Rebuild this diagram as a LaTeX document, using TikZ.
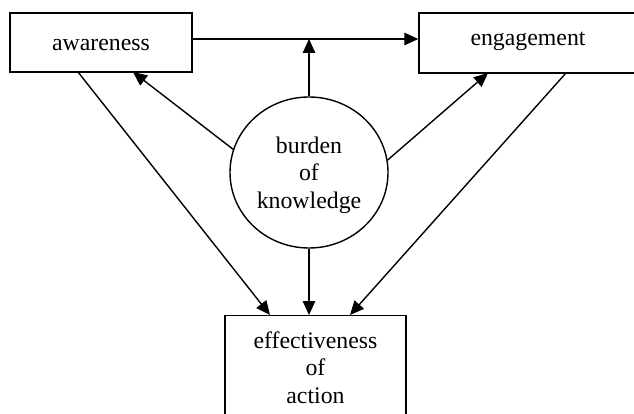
\documentclass[tikz,border=0pt]{standalone}
\usepackage{fontspec}
\setmainfont{Liberation Serif}
\usetikzlibrary{arrows.meta,shapes.geometric}
\begin{document}
\begin{tikzpicture}[x=1pt,y=-1pt,
  every node/.style={font=\fontsize{23.8}{27.7}\selectfont, align=center, line width=1.4pt},
  box/.style={draw, rectangle, inner sep=0pt},
  conn/.style={line width=1.4pt, -{Triangle[length=14pt,width=12.5pt]}}]
\clip (0,0) rectangle (634,414);
\useasboundingbox (0,0) rectangle (634,414);
\node[box, minimum width=182pt, minimum height=59pt, text height=17pt, text depth=0pt] (aw) at (101,42.5) {awareness};
\node[box, minimum width=218pt, minimum height=60pt, text height=17pt, text depth=11pt] (eng) at (528,43) {engagement};
\node[draw, ellipse, inner sep=0pt, minimum width=158pt, minimum height=151pt] (bk) at (309,172.5) {};
\node[inner sep=0pt] (bkt) at (309,175.2) {burden\\of\\knowledge};
\node[box, anchor=north, minimum width=181pt, inner ysep=15.7pt] (eff) at (315.5,315) {effectiveness\\of\\action};
% connection points
\coordinate (awR) at (192,39);
\coordinate (awB1) at (78,72);
\coordinate (awB2) at (133,72);
\coordinate (engB1) at (488,73);
\coordinate (engB2) at (566,73);
\coordinate (effT1) at (270,315);
\coordinate (effT2) at (350,315);
% connectors
\draw[conn] (awR) -- (awR -| eng.west);
\draw[conn] (bk.north) -- (bk.north |- awR);
\draw[conn] (bk.163) -- (awB2);
\draw[conn] (bk.9) -- (engB1);
\draw[conn] (awB1) -- (effT1);
\draw[conn] (engB2) -- (effT2);
\draw[conn] (bk.south) -- (bk.south |- eff.north);
\end{tikzpicture}
\end{document}
